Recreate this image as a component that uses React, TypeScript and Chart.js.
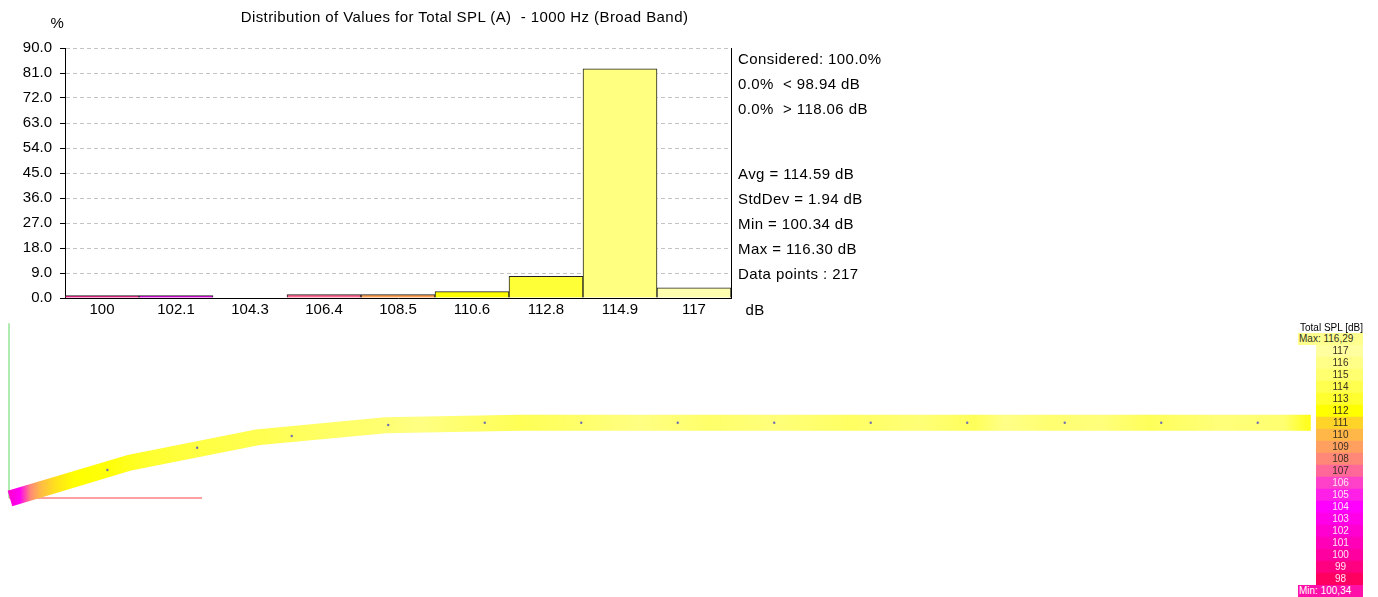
import React, { useEffect, useRef } from 'react';
import { Chart, registerables } from 'chart.js';

Chart.register(...registerables);

const FONT = "'Liberation Sans', Arial, Helvetica, sans-serif";

// ---------- Histogram data ----------
const binLabels = ['100', '102.1', '104.3', '106.4', '108.5', '110.6', '112.8', '114.9', '117'];
const binPercent = [0.85, 0.85, 0, 1.2, 1.2, 2.3, 7.83, 82.49, 3.69];
const binColors = ['#ff2090', '#f000f0', '#ff00c0', '#ff6890', '#ffa050', '#ffff00', '#ffff38', '#ffff80', '#ffffb0'];
const yMaxPercent = 90;
const yStepPercent = 9;

const titleText = 'Distribution of Values for Total SPL (A)  - 1000 Hz (Broad Band)';
const statLines = [
  'Considered: 100.0%',
  '0.0%  < 98.94 dB',
  '0.0%  > 118.06 dB',
  'Avg = 114.59 dB',
  'StdDev = 1.94 dB',
  'Min = 100.34 dB',
  'Max = 116.30 dB',
  'Data points : 217',
];

// ---------- Track (map view) data, metres ----------
const pathX = [0.1, 12.5, 25.7, 39.0, 52.9, 134.9];
const pathY = [-0.05, 3.66, 6.29, 7.54, 7.79, 7.79];
const dotX = [10.2, 19.5, 29.3, 39.3, 49.3, 59.3, 69.3, 79.3, 89.3, 99.3, 109.4, 119.4, 129.4];
const dotY = [2.9, 5.21, 6.42, 7.56, 7.8, 7.8, 7.8, 7.8, 7.8, 7.8, 7.8, 7.8, 7.8];
const splDist = [0, 1.1, 2.2, 3.2, 4.8, 6.8, 10.5, 14.6, 19.8, 26, 32.2, 38.4, 42.6, 46.7, 53, 59.2, 65.4, 72.6, 78.9, 87.2, 94.4, 100.1, 103.2, 107.9, 113.1, 118.2, 125.5, 132.2, 134.3, 134.9];
const splValue = [102, 103.5, 108, 110, 111.3, 112, 112.2, 113, 113.6, 114, 114.6, 115, 115.8, 115, 114.2, 114.8, 115.8, 114.8, 115.4, 114.6, 115.3, 114.3, 116, 115, 115.5, 114.3, 115.4, 115, 112.8, 112.5];
const axisXLength = 20.0;
const axisZLength = 18.1;

// ---------- Colour scale ----------
const cbTitle = 'Total SPL [dB]';
const cbLevels = ['117', '116', '115', '114', '113', '112', '111', '110', '109', '108', '107', '106', '105', '104', '103', '102', '101', '100', '99', '98'];
const cbColors = ['#ffffa0', '#ffff88', '#ffff70', '#ffff50', '#ffff30', '#ffff00', '#ffd428', '#ffb848', '#ffa060', '#ff8878', '#ff6898', '#ff40c8', '#ff20e8', '#ff00ff', '#ff00e8', '#ff00d0', '#ff00b8', '#ff00a0', '#ff0080', '#ff0060'];
const cbMaxText = 'Max: 116,29';
const cbMinText = 'Min: 100,34';

function hexToRgb(h: string) {
  const n = parseInt(h.slice(1), 16);
  return [(n >> 16) & 255, (n >> 8) & 255, n & 255];
}
function splColor(v: number) {
  const lv = cbLevels.map(Number);
  const pairs = lv.map((l, i) => [l, hexToRgb(cbColors[i])] as [number, number[]]).sort((a, b) => a[0] - b[0]);
  if (v <= pairs[0][0]) return cbColors[cbColors.length - 1];
  for (let i = 0; i < pairs.length - 1; i++) {
    const [a, ca] = pairs[i];
    const [b, cb] = pairs[i + 1];
    if (v >= a && v <= b) {
      const t = (v - a) / (b - a);
      const c = ca.map((x, k) => Math.round(x + (cb[k] - x) * t));
      return `rgb(${c[0]},${c[1]},${c[2]})`;
    }
  }
  return cbColors[0];
}

// ---------- Layout ----------
const W = 1378;
const HIST_H = 318;
const PLOT_LEFT = 65;
const PLOT_RIGHT = 731;
const PLOT_TOP = 48;
const XAXIS_H = 20;
const MAP_TOP = 318;
const MAP_W = 1316;
const MAP_H = 279;
const PX_PER_M = 9.65;
const ORIGIN = { x: 9, y: 180 };
const statCenters = [59, 84, 109, 173.5, 198.7, 223.7, 248.7, 273.5];
const CB = { left: 1316, top: 345, width: 47, height: 240 };

const rightBorder = {
  id: 'rightBorder',
  afterDraw(chart: any) {
    const { ctx, chartArea } = chart;
    ctx.save();
    ctx.strokeStyle = '#000';
    ctx.lineWidth = 1;
    ctx.beginPath();
    const x = Math.round(chartArea.right) + 0.5;
    ctx.moveTo(x, chartArea.top);
    ctx.lineTo(x, chartArea.bottom);
    ctx.stroke();
    ctx.restore();
  },
};

const cbLabelPlugin = {
  id: 'cbLabels',
  afterDatasetsDraw(chart: any) {
    const meta = chart.getDatasetMeta(0);
    const { ctx, chartArea } = chart;
    ctx.save();
    ctx.font = `10px ${FONT}`;
    ctx.textAlign = 'center';
    ctx.textBaseline = 'middle';
    meta.data.forEach((bar: any, i: number) => {
      const v = Number(cbLevels[i]);
      ctx.fillStyle = v >= 107 ? '#3a3020' : '#ffe4f4';
      ctx.fillText(cbLevels[i], (chartArea.left + chartArea.right) / 2 + 1, bar.y + 0.5);
    });
    ctx.restore();
  },
};

function trackGradient(chart: any) {
  const { ctx, chartArea, scales } = chart;
  if (!chartArea || !scales || !scales.x) return '#ffff60';
  const l = chartArea.left;
  const r = chartArea.right;
  const g = ctx.createLinearGradient(l, 0, r, 0);
  splDist.forEach((d, i) => {
    const p = (scales.x.getPixelForValue(d) - l) / (r - l);
    g.addColorStop(Math.min(1, Math.max(0, p)), splColor(splValue[i]));
  });
  return g;
}

const Txt = ({ x, cy, size = 15, color = '#000', children, w, align, ls = 0.42 }: any) => (
  <div
    style={{
      position: 'absolute',
      left: x,
      top: cy - Math.round(size * 1.2) / 2,
      width: w,
      textAlign: align || 'left',
      font: `${size}px ${FONT}`,
      lineHeight: `${Math.round(size * 1.2)}px`,
      letterSpacing: `${ls}px`,
      whiteSpace: 'pre',
      color,
    }}
  >
    {children}
  </div>
);

export default function App() {
  const histRef = useRef<HTMLCanvasElement>(null);
  const mapRef = useRef<HTMLCanvasElement>(null);
  const cbRef = useRef<HTMLCanvasElement>(null);

  useEffect(() => {
    Chart.defaults.font.family = FONT;
    Chart.defaults.color = '#000';

    const hist = new Chart(histRef.current!, {
      type: 'bar',
      data: {
        labels: binLabels,
        datasets: [
          {
            data: binPercent,
            backgroundColor: binColors,
            borderColor: '#202020',
            borderWidth: 1,
            barPercentage: 1,
            categoryPercentage: 1,
            borderSkipped: 'start',
          },
        ],
      },
      options: {
        animation: false,
        responsive: false,
        events: [],
        layout: { autoPadding: false, padding: { left: 0, top: PLOT_TOP, right: W - PLOT_RIGHT, bottom: 0 } },
        plugins: { legend: { display: false }, tooltip: { enabled: false } },
        scales: {
          x: {
            grid: { display: false, drawTicks: false },
            border: { display: true, color: '#000', width: 1 },
            ticks: { color: '#000', font: { size: 15 }, padding: 3, maxRotation: 0, autoSkip: false },
            afterFit: (s: any) => {
              s.height = XAXIS_H;
            },
          },
          y: {
            min: 0,
            max: yMaxPercent,
            ticks: {
              stepSize: yStepPercent,
              color: '#000',
              font: { size: 15 },
              padding: 8,
              callback: (v: any) => Number(v).toFixed(1),
            },
            grid: { color: '#c4c4c4', lineWidth: 1, tickColor: '#000', tickLength: 5, tickBorderDash: [], drawTicks: true },
            border: { display: true, color: '#000', width: 1, dash: [4, 3] },
            afterFit: (s: any) => {
              s.width = PLOT_LEFT;
            },
          },
        },
      } as any,
      plugins: [rightBorder],
    });

    const xMin = -ORIGIN.x / PX_PER_M;
    const xMax = (MAP_W - ORIGIN.x) / PX_PER_M;
    const yMax = ORIGIN.y / PX_PER_M;
    const yMin = -(MAP_H - ORIGIN.y) / PX_PER_M;

    const map = new Chart(mapRef.current!, {
      type: 'line',
      data: {
        datasets: [
          {
            label: 'points',
            data: dotX.map((x, i) => ({ x, y: dotY[i] })),
            showLine: false,
            pointRadius: 1.2,
            pointBackgroundColor: '#7070b0',
            pointBorderWidth: 0,
            order: 0,
          },
          {
            label: 'track',
            data: pathX.map((x, i) => ({ x, y: pathY[i] })),
            borderWidth: 16,
            borderColor: (ctx: any) => trackGradient(ctx.chart),
            borderCapStyle: 'butt',
            borderJoinStyle: 'miter',
            pointRadius: 0,
            tension: 0,
            order: 1,
          },
          {
            label: 'x axis',
            data: [{ x: 0, y: 0 }, { x: axisXLength, y: 0 }],
            borderColor: '#ff8080',
            borderWidth: 1.5,
            pointRadius: 0,
            order: 2,
          },
          {
            label: 'z axis',
            data: [{ x: 0, y: 0 }, { x: 0, y: axisZLength }],
            borderColor: '#60d860',
            borderWidth: 1,
            pointRadius: 0,
            order: 3,
          },
        ],
      },
      options: {
        animation: false,
        responsive: false,
        events: [],
        layout: { autoPadding: false, padding: 0 },
        plugins: { legend: { display: false }, tooltip: { enabled: false } },
        scales: {
          x: { type: 'linear', min: xMin, max: xMax, display: false },
          y: { type: 'linear', min: yMin, max: yMax, display: false },
        },
      } as any,
    });

    const cb = new Chart(cbRef.current!, {
      type: 'bar',
      data: {
        labels: cbLevels,
        datasets: [
          {
            data: cbLevels.map(() => 1),
            backgroundColor: cbColors,
            borderWidth: 0,
            barPercentage: 1,
            categoryPercentage: 1,
          },
        ],
      },
      options: {
        indexAxis: 'y',
        animation: false,
        responsive: false,
        events: [],
        layout: { autoPadding: false, padding: 0 },
        plugins: { legend: { display: false }, tooltip: { enabled: false } },
        scales: {
          x: { min: 0, max: 1, display: false },
          y: { display: false },
        },
      } as any,
      plugins: [cbLabelPlugin],
    });

    return () => {
      hist.destroy();
      map.destroy();
      cb.destroy();
    };
  }, []);

  return (
    <div style={{ position: 'absolute', left: 0, top: 0, width: W, height: 597, background: '#fff', overflow: 'hidden' }}>
      <canvas ref={histRef} width={W} height={HIST_H} style={{ position: 'absolute', left: 0, top: 0, display: 'block' }} />
      <canvas ref={mapRef} width={MAP_W} height={MAP_H} style={{ position: 'absolute', left: 0, top: MAP_TOP, display: 'block' }} />
      <canvas
        ref={cbRef}
        width={CB.width}
        height={CB.height}
        style={{ position: 'absolute', left: CB.left, top: CB.top, display: 'block' }}
      />
      <Txt x={0} w={929} align="center" cy={17}>{titleText}</Txt>
      <Txt x={0} w={115} align="center" cy={23}>%</Txt>
      <Txt x={735} w={40} align="center" cy={310}>dB</Txt>
      {statLines.map((s, i) => (
        <Txt key={i} x={738} cy={statCenters[i]}>{s}</Txt>
      ))}
      <Txt x={1300} cy={328} size={10} ls={0}>{cbTitle}</Txt>
      <div
        style={{
          position: 'absolute',
          left: 1298,
          top: 333,
          width: 65,
          height: 12,
          background: '#ffff90',
          font: `10px ${FONT}`,
          lineHeight: '12px',
          color: '#303020',
          paddingLeft: 1,
          boxSizing: 'border-box',
          whiteSpace: 'pre',
        }}
      >
        {cbMaxText}
      </div>
      <div
        style={{
          position: 'absolute',
          left: 1298,
          top: 585,
          width: 65,
          height: 12,
          background: '#ff10a8',
          font: `10px ${FONT}`,
          lineHeight: '12px',
          color: '#ffffff',
          paddingLeft: 1,
          boxSizing: 'border-box',
          whiteSpace: 'pre',
        }}
      >
        {cbMinText}
      </div>
    </div>
  );
}
